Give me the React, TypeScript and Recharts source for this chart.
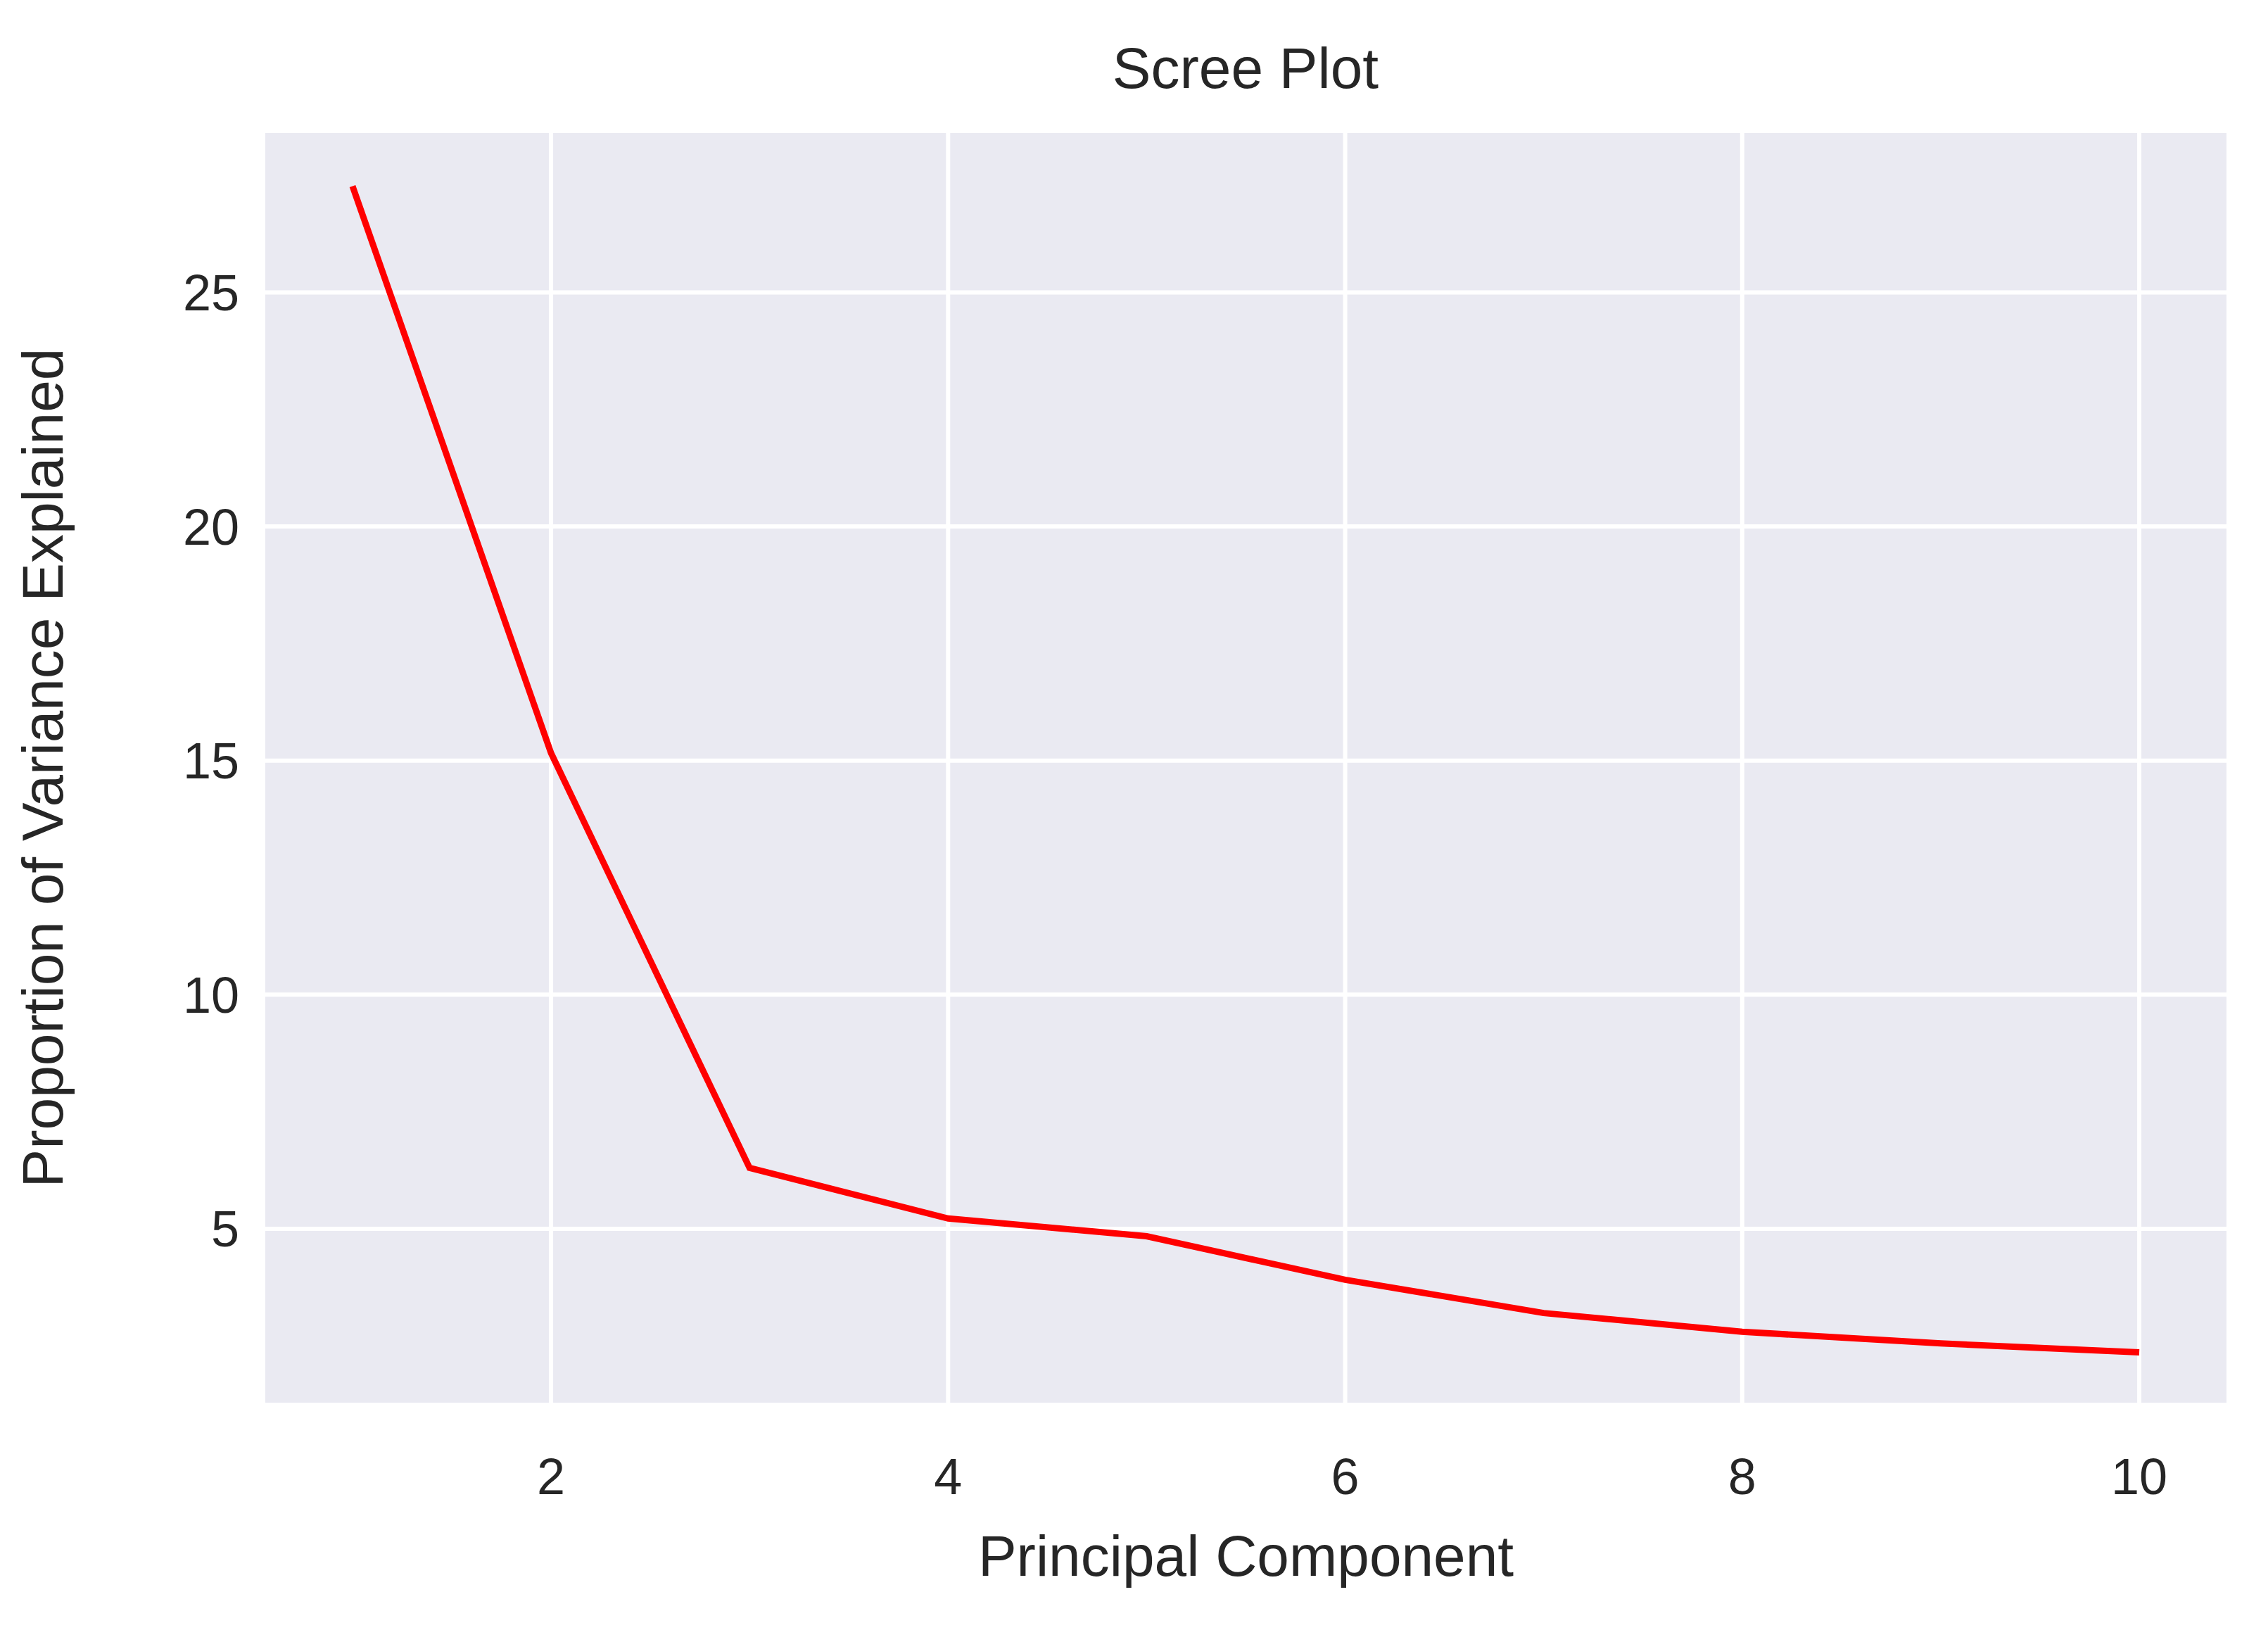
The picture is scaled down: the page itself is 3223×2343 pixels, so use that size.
import React from "react";
import { LineChart, Line, XAxis, YAxis, CartesianGrid, Label } from "recharts";

const components = [1, 2, 3, 4, 5, 6, 7, 8, 9, 10];
const variance = [27.27, 15.16, 6.3, 5.22, 4.84, 3.91, 3.2, 2.8, 2.55, 2.36];
const xTicks = [2, 4, 6, 8, 10];
const yTicks = [5, 10, 15, 20, 25];

const data = components.map((c, i) => ({ pc: c, v: variance[i] }));
const font = "Arial, 'Liberation Sans', sans-serif";

export default function App() {
  return (
    <div style={{ margin: -8, fontFamily: font }}>
      <LineChart width={3223} height={2343} data={data} margin={{ top: 186, right: 56, left: 0, bottom: 0 }}>
        <text x={1770} y={103} textAnchor="middle" dominantBaseline="middle" fontSize={82} fill="#262626" fontFamily={font}>Scree Plot</text>
        <CartesianGrid fill="#EAEAF2" stroke="#ffffff" strokeWidth={6} />
        <XAxis dataKey="pc" type="number" domain={[0.55, 10.45]} ticks={xTicks} height={347}
          axisLine={false} tickLine={false} tickMargin={70}
          tick={{ fontSize: 72, fill: "#262626", fontFamily: font }}>
          <Label value="Principal Component" position="insideTop" offset={185} fontSize={82} fill="#262626" fontFamily={font} />
        </XAxis>
        <YAxis type="number" domain={[1.24, 28.45]} ticks={yTicks} width={374}
          axisLine={false} tickLine={false} tickMargin={28}
          tick={{ fontSize: 72, fill: "#262626", fontFamily: font }}>
          <Label value="Proportion of Variance Explained" angle={-90} position="insideLeft" offset={60} fontSize={82} fill="#262626" fontFamily={font} style={{ textAnchor: "middle" }} />
        </YAxis>
        <Line dataKey="v" stroke="#ff0000" strokeWidth={9} dot={false} isAnimationActive={false} />
      </LineChart>
    </div>
  );
}
